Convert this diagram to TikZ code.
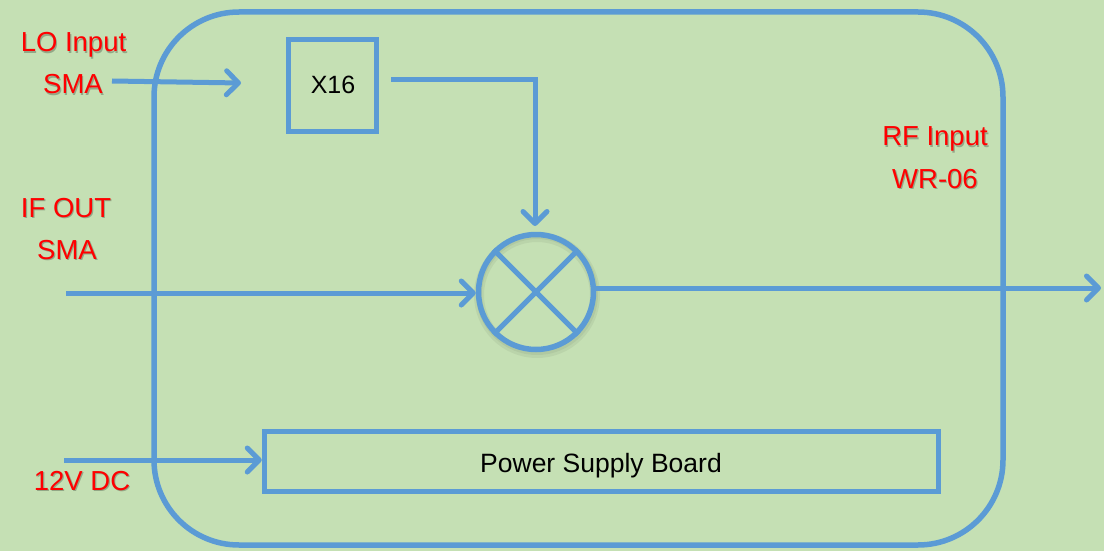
\documentclass[tikz,border=0pt]{standalone}
\usepackage{fontspec}
\setmainfont{Liberation Sans}
\usetikzlibrary{arrows.meta}
\definecolor{bg}{HTML}{C5E0B4}
\definecolor{ln}{HTML}{5B9BD5}
\definecolor{lbl}{HTML}{FF0000}
\tikzset{
  wire/.style={draw=ln, line width=5pt},
  arr/.style={wire, -{Straight Barb[length=12pt,width=24pt,line cap=round,line join=round]}},
  boxnode/.style={draw=ln, line width=5.5pt, rectangle, inner sep=0pt},
  blktext/.style={font=\fontsize{25}{28}\selectfont, anchor=base, inner sep=0pt},
  redlbl/.style={text=lbl, font=\fontsize{27.5}{30}\selectfont, anchor=base, inner sep=0pt},
}
\newcommand{\shlabel}[3]{%
  \node[redlbl, text=black, opacity=0.25] at ([xshift=1.2pt,yshift=-1.2pt]#1) {#3};
  \node[redlbl] (#2) at (#1) {#3};}
\begin{document}
\begin{tikzpicture}[x=1pt,y=-1pt]
\fill[bg] (0,0) rectangle (1104,551);
\useasboundingbox (0,0) rectangle (1104,551);
% housing
\draw[draw=ln, line width=5.5pt, rounded corners=85pt] (154,12) rectangle (1003,545);
% blocks
\node[boxnode, minimum width=88pt, minimum height=92pt] (x16) at (332.5,85.5) {};
\node[blktext] (x16t) at (333,93) {X16};
\node[boxnode, minimum width=674pt, minimum height=60pt] (pwr) at (601.5,461.5) {};
\node[blktext, font=\fontsize{26.5}{30}\selectfont] (pwrt) at (601,472) {Power Supply Board};
\draw[black, opacity=0.05, line width=10pt] (537,295) circle[radius=58pt];
\draw[black, opacity=0.05, line width=6pt] (537,294) circle[radius=58pt];
\node[draw=ln, line width=5.5pt, circle, inner sep=0pt, minimum size=115pt] (mix) at (536,292) {};
\draw[wire] (mix.45) -- (mix.225);
\draw[wire] (mix.135) -- (mix.315);
% coordinates
\coordinate (loin) at (112,81);
\coordinate (loend) at (241,83);
\coordinate (x16out) at (391,80);
\coordinate (ifin) at (66,293);
\coordinate (rfout) at (1101,288);
\coordinate (dcin) at (64,460);
\coordinate (mixin) at (535,226);
% connectors
\draw[arr] (loin) -- (loend);
\draw[arr] (x16out) -- (535,80) -- (mixin);
\draw[arr] (ifin) -- (mix.west |- ifin);
\draw[arr] (mix.east |- rfout) -- (rfout);
\draw[arr] (dcin) -- (pwr.west |- dcin);
% labels
\shlabel{73.5,52}{lo1}{LO Input}
\shlabel{73,94}{lo2}{SMA}
\shlabel{66,217}{if1}{IF OUT}
\shlabel{67,259}{if2}{SMA}
\shlabel{935,146}{rf1}{RF Input}
\shlabel{935,188}{rf2}{WR-06}
\shlabel{82,490}{dc1}{12V DC}
\end{tikzpicture}
\end{document}
